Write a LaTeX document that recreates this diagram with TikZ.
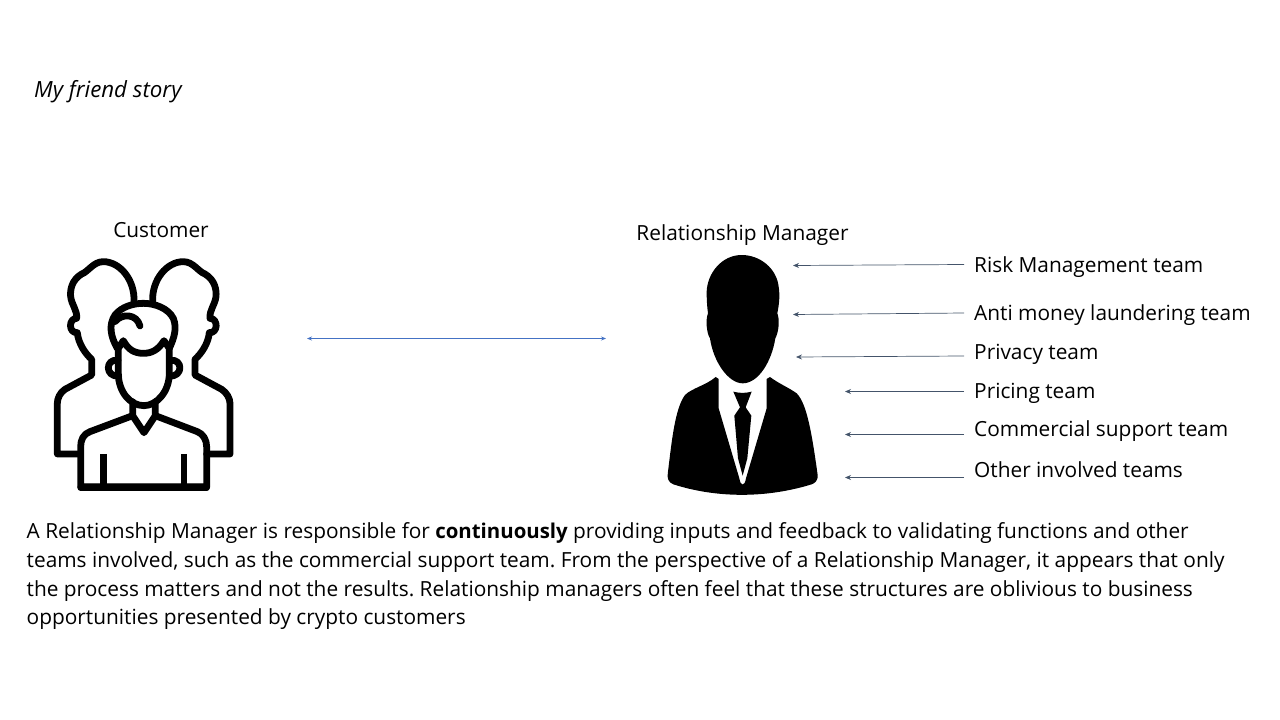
\documentclass[tikz,border=0pt]{standalone}
\usepackage{fontspec}
\setmainfont{Open Sans}
\usetikzlibrary{arrows.meta}
\definecolor{arrowslate}{HTML}{44546A}
\definecolor{arrowblue}{HTML}{4472C4}
\tikzset{
  label text/.style={inner sep=0pt,font=\fontsize{20.85}{25}\selectfont,text height=15pt,text depth=4.5pt},
  team/.style={label text,anchor=west,inner xsep=10pt},
  bodyline/.style={label text,anchor=base west},
  toteam/.style={draw=arrowslate,line width=0.7pt,-{Stealth[length=6pt,width=5pt]}},
  link/.style={draw=arrowblue,line width=0.8pt,{Stealth[length=5pt,width=4pt]}-{Stealth[length=5pt,width=4pt]}},
  icon/.style={draw=black,line width=6.8pt,line join=round,line cap=round,fill=none}
}
\begin{document}
\frenchspacing
\begin{tikzpicture}[x=1pt,y=-1pt]
\useasboundingbox (0,0) rectangle (1280,720);
\node[label text,anchor=west,font=\fontsize{22.3}{25}\selectfont] (story) at (34,92) {\itshape My friend story};
\node[label text] (customer) at (161,232.5) {Customer};
\node[label text] (rm) at (742.5,235.5) {Relationship Manager};

\begin{scope}[shift={(40,250)},x=0.3333pt,y=-0.3333pt]
% back figures
\path[icon] (282,155) .. controls (285,90) and (240,35) .. (190,35) .. controls (160,35) and (145,65) .. (125,72) .. controls (95,90) and (90,120) .. (92,140) .. controls (95,165) and (112,180) .. (110,205) .. controls (85,205) and (85,250) .. (112,248) .. controls (115,280) and (135,310) .. (155,328) -- (155,375) -- (75,418) .. controls (60,428) and (52,445) .. (52,460) -- (52,612) -- (120,612);
\path[icon] (338,155) .. controls (335,90) and (380,35) .. (430,35) .. controls (460,35) and (475,65) .. (495,72) .. controls (525,90) and (530,120) .. (528,140) .. controls (525,165) and (508,180) .. (510,205) .. controls (535,205) and (535,250) .. (508,248) .. controls (505,280) and (485,310) .. (465,328) -- (465,375) -- (545,418) .. controls (560,428) and (570,445) .. (570,460) -- (570,612) -- (500,612);
% hair
\path[icon] (232,295) .. controls (212,260) and (205,225) .. (225,195) .. controls (245,170) and (280,160) .. (310,160) .. controls (345,160) and (385,175) .. (400,205) .. controls (412,235) and (402,265) .. (388,295);
\path[icon] (225,215) .. controls (245,190) and (290,190) .. (300,228);
% face
\path[icon] (235,295) -- (250,272) .. controls (265,300) and (285,310) .. (310,310) .. controls (335,310) and (355,300) .. (372,272) -- (388,295) -- (388,370) .. controls (388,425) and (350,467) .. (312,467) .. controls (270,467) and (235,425) .. (235,370) -- cycle;
% ears
\path[icon] (234,331) .. controls (195,325) and (195,382) .. (236,378);
\path[icon] (390,331) .. controls (430,325) and (430,382) .. (388,378);
% neck, collar, torso
\path[icon] (278,455) -- (278,497) -- (312,548) -- (346,497) -- (346,455);
\path[icon] (278,497) -- (150,545) .. controls (130,552) and (122,570) .. (122,590) -- (122,712) -- (500,712) -- (500,590) .. controls (500,570) and (490,552) .. (472,545) -- (346,497);
\fill[black,rounded corners=3pt] (113,700) rectangle (509,723);
\path[icon,line cap=butt] (190,612) -- (190,712);
\path[icon,line cap=butt] (432,612) -- (432,712);
\end{scope}

\begin{scope}[shift={(650,245)},x=0.3333pt,y=-0.3333pt]
\fill[black] (275,30) .. controls (215,30) and (172,85) .. (170,140) .. controls (170,170) and (172,190) .. (174,205) .. controls (166,225) and (170,265) .. (180,280) .. controls (190,350) and (235,415) .. (278,415) .. controls (325,415) and (365,350) .. (376,280) .. controls (386,262) and (390,225) .. (382,205) .. controls (388,175) and (390,150) .. (386,125) .. controls (380,70) and (330,30) .. (275,30) -- cycle;
\fill[black] (197,396) -- (206,402) -- (206,490) -- (268,700) .. controls (272,725) and (284,725) .. (288,700) -- (350,490) -- (350,402) -- (360,396) .. controls (385,415) and (420,430) .. (440,445) .. controls (470,475) and (485,560) .. (503,690) .. controls (505,705) and (495,715) .. (485,718) .. controls (350,760) and (200,760) .. (70,718) .. controls (55,712) and (50,700) .. (54,680) .. controls (65,590) and (75,490) .. (105,450) .. controls (125,430) and (170,420) .. (197,396) -- cycle;
\fill[black] (250,440) .. controls (270,445) and (285,445) .. (305,440) -- (287,487) -- (304,512) -- (292,640) -- (278,692) -- (264,640) -- (253,512) -- (270,487) -- cycle;
\end{scope}

\coordinate (custside) at (307,338.5);
\coordinate (rmside) at (606,338.5);
\path[link] (custside) -- (rmside);

\node[team] (t1) at (964,267.5) {Risk Management team};
\node[team] (t2) at (964,315.5) {Anti money laundering team};
\node[team] (t3) at (964,354) {Privacy team};
\node[team] (t4) at (964,393.5) {Pricing team};
\node[team] (t5) at (964,431.5) {Commercial support team};
\node[team] (t6) at (964,472) {Other involved teams};
\coordinate (a1) at (793,265.5);
\coordinate (a2) at (793,314.5);
\coordinate (a3) at (796,357);
\coordinate (a4) at (845,391.5);
\coordinate (a5) at (845,434.5);
\coordinate (a6) at (845,477.5);
\coordinate (s1) at (964,264.5);
\coordinate (s2) at (964,313);
\coordinate (s3) at (964,356);
\coordinate (s4) at (964,391.5);
\coordinate (s5) at (964,434.5);
\coordinate (s6) at (964,477.5);
\foreach \i in {1,...,6}{\path[toteam] (s\i) -- (a\i);}

\node[bodyline] (l1) at (26.5,538.5) {A Relationship Manager is responsible for {\fontsize{20.4}{25}\selectfont\textbf{continuously}} providing inputs and feedback to validating functions and other};
\node[bodyline] (l2) at (26.5,567.5) {teams involved, such as the commercial support team. From the perspective of a Relationship Manager, it appears that only};
\node[bodyline] (l3) at (26.5,596) {the process matters and not the results. Relationship managers often feel that these structures are oblivious to business};
\node[bodyline] (l4) at (26.5,624.5) {opportunities presented by crypto customers};
\end{tikzpicture}
\end{document}
